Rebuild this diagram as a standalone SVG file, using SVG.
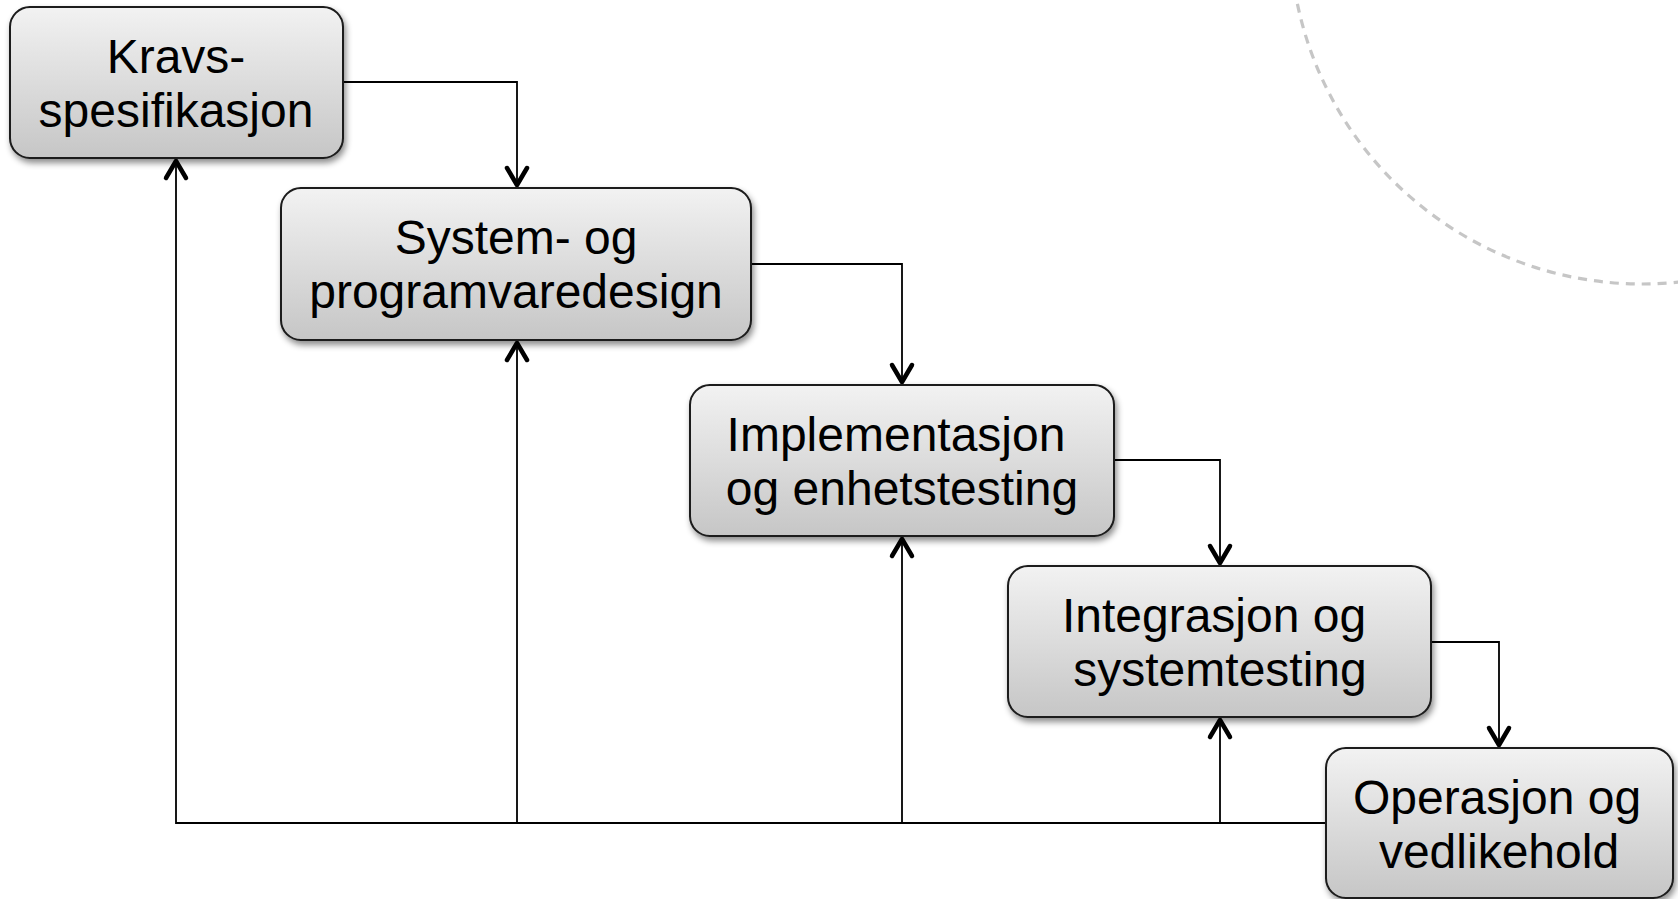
<svg xmlns="http://www.w3.org/2000/svg" width="1678" height="899" viewBox="0 0 1678 899">
<style>
.box{fill:url(#g);stroke:#1a1a1a;stroke-width:2;filter:url(#sh)}
.t{font-family:"Liberation Sans",Arial,sans-serif;font-size:48px;fill:#000;text-anchor:middle}
.c{fill:none;stroke:#000;stroke-width:1.8}
.arr{marker-end:url(#ah)}
</style>
<defs>
<linearGradient id="g" x1="0" y1="0" x2="0" y2="1">
<stop offset="0" stop-color="#f2f2f2"/>
<stop offset="1" stop-color="#c6c6c6"/>
</linearGradient>
<filter id="sh" x="-10%" y="-10%" width="130%" height="140%">
<feDropShadow dx="2" dy="4" stdDeviation="3" flood-color="#000" flood-opacity="0.45"/>
</filter>
<marker id="ah" markerUnits="userSpaceOnUse" markerWidth="40" markerHeight="40" refX="0" refY="0" orient="auto" overflow="visible">
<path d="M-17,-10 L0,0 L-17,10" fill="none" stroke="#000" stroke-width="4.5" stroke-linejoin="round" stroke-linecap="round"/>
</marker>
</defs>
<rect width="1678" height="899" fill="#fff"/>
<circle cx="1642" cy="-68" r="352" fill="none" stroke="#c6c6c6" stroke-width="3.2" stroke-dasharray="9 7"/>
<g id="connectors">
<path class="c arr" d="M343,82 H517 V185"/>
<path class="c arr" d="M751,264 H902 V382"/>
<path class="c arr" d="M1114,460 H1220 V563"/>
<path class="c arr" d="M1431,642 H1499 V745"/>
<path class="c arr" d="M1326,823 H176 V161"/>
<path class="c arr" d="M1326,823 H517 V343"/>
<path class="c arr" d="M1326,823 H902 V539"/>
<path class="c arr" d="M1326,823 H1220 V720"/>
</g>
<g id="n1">
<rect class="box" x="10" y="7" width="333" height="151" rx="20"/>
<text class="t" x="176" y="73">Kravs-</text>
<text class="t" x="176" y="127">spesifikasjon</text>
</g>
<g id="n2">
<rect class="box" x="281" y="188" width="470" height="152" rx="20"/>
<text class="t" x="516" y="254">System- og</text>
<text class="t" x="516" y="308">programvaredesign</text>
</g>
<g id="n3">
<rect class="box" x="690" y="385" width="424" height="151" rx="20"/>
<text class="t" x="896" y="451">Implementasjon</text>
<text class="t" x="902" y="505">og enhetstesting</text>
</g>
<g id="n4">
<rect class="box" x="1008" y="566" width="423" height="151" rx="20"/>
<text class="t" x="1214" y="632">Integrasjon og</text>
<text class="t" x="1220" y="686">systemtesting</text>
</g>
<g id="n5">
<rect class="box" x="1326" y="748" width="347" height="150" rx="20"/>
<text class="t" x="1497" y="814">Operasjon og</text>
<text class="t" x="1499" y="868">vedlikehold</text>
</g>
</svg>
